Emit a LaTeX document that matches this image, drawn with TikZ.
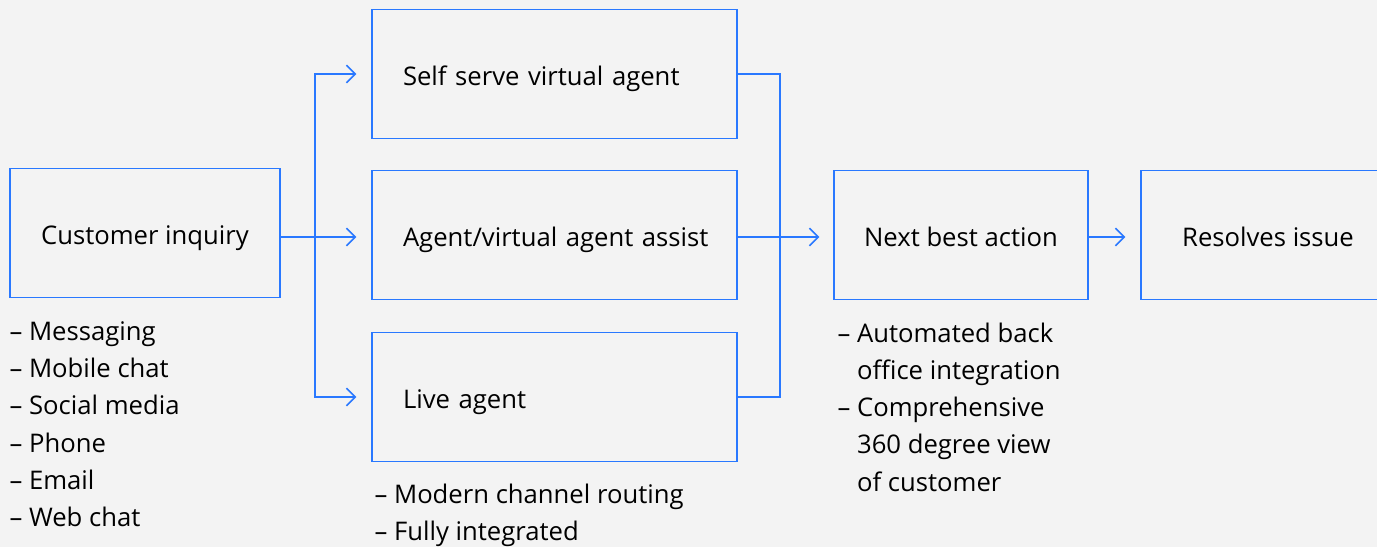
\documentclass[tikz,border=0pt]{standalone}
\usepackage{fontspec}
\setmainfont{Open Sans}
\usetikzlibrary{arrows.meta,positioning}
\definecolor{flowblue}{RGB}{41,120,255}
\definecolor{canvas}{RGB}{243,243,243}
\tikzset{
  >={Straight Barb[length=5pt,width=10pt]},
  stage/.style ={draw=flowblue, line width=0.85pt, minimum height=2.58cm,
                 inner sep=0pt, text height=13.6pt, text depth=0pt,
                 font=\fontsize{14.6}{21}\selectfont},
  wide/.style  ={stage, text width=6.06cm, inner xsep=0.62cm, align=left},
  route/.style ={draw=flowblue, line width=0.85pt},
  notes/.style ={anchor=north west, align=left, inner sep=0pt,
                 font=\fontsize{14.6}{21.2}\selectfont},
}

\begin{document}
\begin{tikzpicture}
  % canvas
  \fill[canvas] (0,0) rectangle (27.54,-10.94);
  \useasboundingbox (0,0) rectangle (27.54,-10.94);

  % inquiry and the three handling paths
  \node[stage, minimum width=5.4cm] (inq) at (2.9,-4.66) {Customer inquiry};
  \node[wide] (self)   at (11.09,-1.48) {Self serve virtual agent};
  \node[wide] (assist) at (11.09,-4.7)  {\mbox{Agent/virtual agent assist}};
  \node[wide] (live)   at (11.09,-7.94) {Live agent};

  % outcome
  \node[stage, minimum width=5.08cm] (nba) at (19.22,-4.7) {Next best action};
  \node[stage, minimum width=5.08cm] (res) at (25.36,-4.7) {Resolves issue};

  % split and join points
  \coordinate (split) at (6.3,-4.74);
  \coordinate (join)  at (15.6,-4.74);

  \draw[route,->] (inq.east |- split) -- (split) -- ([xshift=-0.3cm]assist.west |- split);
  \draw[route,->] (split) |- ([xshift=-0.3cm]self.west);
  \draw[route,->] (split) |- ([xshift=-0.3cm]live.west);
  \draw[route] (self.east) -| (join) |- (live.east);
  \draw[route,->] (assist.east |- join) -- ([xshift=-0.28cm]nba.west |- join);
  \draw[route,->] (nba.east |- join) -- ([xshift=-0.3cm]res.west |- join);

  % notes under the boxes
  \node[notes] (chan) at ([yshift=-0.46cm]inq.south west)
    {– Messaging\\– Mobile chat\\– Social media\\– Phone\\– Email\\– Web chat};
  \node[notes] (route) at ([xshift=0.06cm,yshift=-0.43cm]live.south west)
    {– Modern channel routing\\– Fully integrated};
  \node[notes] (back) at ([xshift=0.08cm,yshift=-0.44cm]nba.south west)
    {– Automated back\\\hphantom{– }office integration\\– Comprehensive\\
     \hphantom{– }360 degree view\\\hphantom{– }of customer};
\end{tikzpicture}
\end{document}
